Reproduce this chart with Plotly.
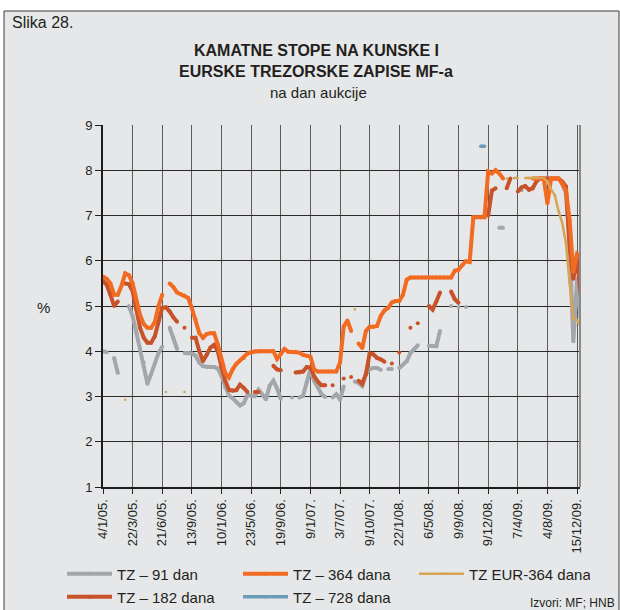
import plotly.graph_objects as go

N = None

# ---------------- data (auction index, 8 auctions between labelled dates) ----------------
auction_idx = list(range(130))
tick_labels = ["4/1/05.", "22/3/05.", "21/6/05.", "13/9/05.", "10/1/06.", "23/5/06.",
               "19/9/06.", "9/1/07.", "3/7/07.", "9/10/07.", "22/1/08.", "6/5/08.",
               "9/9/08.", "9/12/08.", "7/4/09.", "4/8/09.", "15/12/09."]
label_step = 8

tz91 = [4.0, 3.98, N, 3.85, 3.52, N, N, 5.0,
        4.77, 4.42, 4.05, 3.75, 3.28, 3.5, 3.74, 3.96,
        4.1, N, 4.52, 4.3, 4.05, N, 3.96, 3.96,
        3.95, 3.9, 3.75, 3.67, 3.65, 3.65, 3.65, 3.62,
        3.45, 3.2, 3.02, 2.96, 2.88, 2.8, 2.85, 3.03,
        3.02, 3.01, 3.15, 3.05, 2.94, 3.24, 3.35, 3.18,
        2.95, N, N, 2.98, N, 2.98, 3.01, 3.31,
        3.6, 3.35, 3.2, 3.05, 2.99, N, 2.98, 3.05,
        2.93, 3.22, N, N, 3.33, 3.3, 3.23, 3.5,
        3.6, 3.63, 3.63, 3.59, N, 3.61, 3.61, N,
        3.63, 3.7, 3.78, 3.96, 4.05, 4.13, N, N,
        4.12, 4.12, 4.11, 4.45, N, N, 5.0, N,
        4.98, N, 4.98, N, N, N, N, N,
        N, N, N, 6.73, 6.73, N, N, N,
        N, 7.56, N, N, 7.6, N, N, N,
        N, N, N, N, 7.7, 7.5, 6.4, 4.22,
        5.6, 4.7]

tz182 = [5.55, 5.47, 5.25, 5.0, 5.1, N, 5.5, 5.48,
         5.33, 4.92, 4.52, 4.3, 4.19, 4.19, 4.33, 4.65,
         4.96, 4.97, 4.88, 4.75, 4.65, N, 4.52, N,
         4.3, 4.3, 4.0, 3.78, 3.92, 4.08, 4.14, 4.0,
         3.65, 3.35, 3.15, 3.13, 3.14, 3.26, 3.19, 3.1,
         N, 3.1, 3.1, N, N, N, 3.68, 3.6,
         3.58, N, N, N, 3.53, 3.53, 3.55, 3.65,
         3.64, 3.45, 3.33, 3.25, 3.25, N, 3.25, N,
         N, 3.4, N, 3.43, N, 3.35, 3.28, 3.5,
         3.95, 3.93, 3.85, 3.82, 3.77, N, 3.73, N,
         3.97, N, N, 4.52, N, 4.62, N, N,
         5.0, 4.92, 5.1, 5.3, N, N, 5.32, 5.15,
         5.07, N, N, N, N, N, N, N,
         7.0, 7.55, 7.6, N, N, 7.6, 7.82, N,
         7.53, 7.62, 7.65, 7.57, 7.6, 7.75, 7.82, 7.82,
         7.82, 7.82, 7.82, 7.82, 7.75, 7.64, 6.3, 5.6,
         6.05, 5.25]

tz364 = [5.65, 5.6, 5.5, 5.25, 5.25, 5.45, 5.72, 5.68,
         5.5, 5.1, 4.8, 4.6, 4.52, 4.52, 4.65, 5.0,
         5.25, N, 5.5, 5.42, 5.3, 5.26, 5.23, 5.18,
         4.95, 4.7, 4.4, 4.3, 4.38, 4.4, 4.4, 4.15,
         3.8, 3.52, 3.42, 3.6, 3.72, 3.8, 3.85, 3.95,
         3.98, 4.0, 4.0, 4.0, 4.0, 4.0, 4.0, 3.83,
         3.95, 4.05, 3.99, 3.99, 3.99, 3.97, 3.92, 3.9,
         3.88, 3.6, 3.55, 3.55, 3.55, 3.55, 3.55, 3.55,
         3.75, 4.55, 4.68, 4.45, N, 4.17, 4.07, 4.45,
         4.54, 4.54, 4.56, 4.78, 4.9, 4.96, 5.08, 5.11,
         5.11, 5.25, 5.58, 5.63, 5.63, 5.63, 5.63, 5.63,
         5.63, 5.63, 5.63, 5.63, 5.63, 5.63, 5.63, 5.78,
         5.8, 5.9, 5.99, 5.97, 6.96, 6.96, 6.96, 6.96,
         7.97, 7.93, 8.0, 7.93, 7.82, N, N, N,
         N, N, N, N, 7.82, 7.82, 7.82, 7.82,
         7.27, 7.82, 7.82, 7.82, 7.7, 7.55, 6.9, 5.75,
         6.15, 6.08]

tz_eur364 = [N, N, N, N, N, N, 2.93, N,
             N, N, N, N, N, N, N, N,
             N, 3.1, N, N, N, N, 3.1, N,
             N, N, N, N, N, N, N, N,
             N, N, N, N, N, N, N, N,
             N, N, N, N, N, N, N, N,
             N, N, N, N, N, N, N, N,
             N, N, N, N, N, N, N, N,
             N, N, N, N, 4.93, N, N, N,
             N, N, N, N, N, N, N, N,
             N, N, N, N, N, N, N, N,
             N, N, N, N, N, N, N, N,
             N, N, N, N, N, N, N, N,
             N, N, N, N, N, 7.82, N, 7.83,
             7.83, N, 7.83, 7.83, 7.83, 7.83, 7.83, 7.83,
             7.75, 7.57, 7.45, 7.1, 6.84, 6.4, 5.5, 4.72,
             4.68, 4.55]

tz728 = [N] * 102 + [8.53, 8.53] + [N] * 26

# ---------------- styling ----------------
FONT = "Liberation Sans, Arial, sans-serif"
TXT = "#231f20"
BG = "#e6e7e8"
W, H = 620, 610
ML, MR, MT, MB = 103, 40, 125, 123
PW, PH = W - ML - MR, H - MT - MB


def px_x(px):
    return (px - ML) / PW


def px_y(py):
    return (H - MB - py) / PH


fig = go.Figure()


def add(name, y, color, width, legend):
    fig.add_trace(go.Scatter(
        x=auction_idx, y=y, name=name, mode="lines+markers",
        line=dict(color=color, width=width),
        marker=dict(color=color, size=width),
        connectgaps=False, legend=legend, hoverinfo="skip"))


add("TZ – 91 dan", tz91, "#a3a7ab", 4, "legend")
add("TZ – 182 dana", tz182, "#c8522a", 4, "legend2")
add("TZ – 364 dana", tz364, "#f26b22", 4, "legend")
add("TZ EUR-364 dana", tz_eur364, "#d6a455", 2.5, "legend")
add("TZ – 728 dana", tz728, "#6b9db9", 3.5, "legend2")

tickvals = [i * label_step for i in range(len(tick_labels))]

leg_common = dict(orientation="h", xanchor="left", yanchor="middle",
                  bgcolor="rgba(0,0,0,0)", font=dict(size=15, color=TXT),
                  itemwidth=45, entrywidth=116, entrywidthmode="pixels",
                  traceorder="normal")

fig.update_layout(
    width=W, height=H, autosize=False,
    margin=dict(l=ML, r=MR, t=MT, b=MB, pad=0, autoexpand=False),
    paper_bgcolor="white",
    plot_bgcolor="rgba(0,0,0,0)",
    font=dict(family=FONT, color=TXT, size=13),
    xaxis=dict(range=[0, 128.8], tickvals=tickvals, ticktext=tick_labels,
               tickangle=-90, ticks="outside", ticklen=5, tickcolor="#222",
               showgrid=True, gridcolor="#5c5c5c", gridwidth=1,
               showline=True, linecolor="#1e1e1e", linewidth=2,
               zeroline=False, tickfont=dict(size=13, color=TXT)),
    yaxis=dict(range=[1, 9], dtick=1, ticks="outside", ticklen=6, tickcolor="#222",
               showgrid=True, gridcolor="#2a2a2a", gridwidth=1,
               showline=True, linecolor="#1e1e1e", linewidth=2,
               zeroline=False, tickfont=dict(size=13, color=TXT)),
    legend=dict(x=px_x(62), y=px_y(574), **leg_common),
    legend2=dict(x=px_x(62), y=px_y(597), **leg_common),
    showlegend=True,
)

fig.add_shape(type="rect", xref="paper", yref="paper",
              x0=px_x(4), x1=px_x(619), y0=px_y(614), y1=px_y(11),
              fillcolor=BG, line=dict(color="#3a3a3a", width=1), layer="below")
fig.add_shape(type="line", xref="paper", yref="paper", x0=1, x1=1, y0=0, y1=1,
              line=dict(color="#8a8a8a", width=2))

ann = [
    dict(text="Slika 28.", x=px_x(10), y=px_y(22), xanchor="left", font=dict(size=16)),
    dict(text="<b>KAMATNE STOPE NA KUNSKE I</b>", x=px_x(316), y=px_y(50), font=dict(size=16)),
    dict(text="<b>EURSKE TREZORSKE ZAPISE MF-a</b>", x=px_x(316), y=px_y(71), font=dict(size=16)),
    dict(text="na dan aukcije", x=px_x(318), y=px_y(92), font=dict(size=15)),
    dict(text="%", x=px_x(43), y=px_y(307), font=dict(size=15)),
    dict(text="Izvori: MF; HNB", x=px_x(617), y=px_y(603), xanchor="right", font=dict(size=12)),
]
for a in ann:
    a.setdefault("xanchor", "center")
    fig.add_annotation(xref="paper", yref="paper", showarrow=False, yanchor="middle", **a)

fig.write_html("out.html", config={"displayModeBar": False},
               post_script="document.body.style.margin='0';document.body.style.overflow='hidden';")
